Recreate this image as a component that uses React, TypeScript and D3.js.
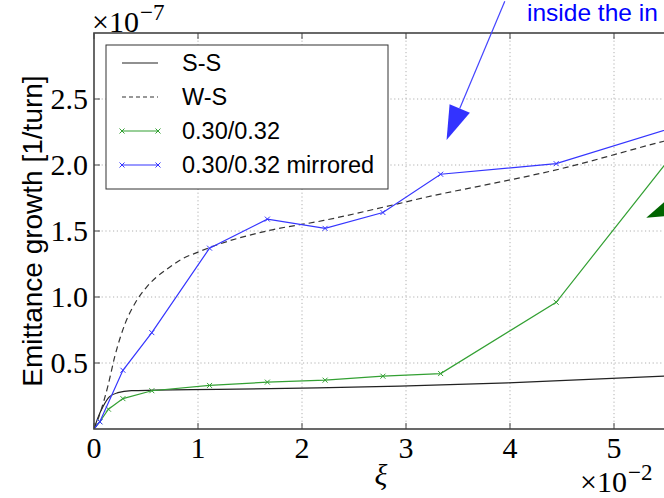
import { useEffect, useRef } from 'react';
import * as d3 from 'd3';

// xi in units of 1e-2, emittance growth in units of 1e-7 [1/turn]
const ssXi = [0, 0.04, 0.087, 0.15, 0.23, 0.36, 0.58, 1.19, 2, 2.94, 3.98, 5.48, 6];
const ssGrowth = [0, 0.09, 0.17, 0.245, 0.275, 0.29, 0.294, 0.3, 0.31, 0.325, 0.35, 0.4, 0.42];

const wsXi = [0, 0.05, 0.135, 0.2, 0.3, 0.4, 0.5, 0.6, 0.7, 0.85, 1.0, 1.13, 1.66, 2.21, 2.78, 3.33, 3.71, 4.48, 5.48, 6];
const wsGrowth = [0, 0.1, 0.33, 0.55, 0.8, 0.96, 1.07, 1.15, 1.21, 1.29, 1.34, 1.38, 1.5, 1.58, 1.68, 1.78, 1.84, 1.97, 2.18, 2.28];

const greenXi = [0, 0.056, 0.139, 0.278, 0.556, 1.111, 1.667, 2.222, 2.778, 3.333, 4.444, 5.556];
const greenGrowth = [0, 0.055, 0.15, 0.23, 0.29, 0.33, 0.355, 0.37, 0.4, 0.42, 0.96, 2.07];

const blueXi = [0, 0.056, 0.278, 0.556, 1.111, 1.667, 2.222, 2.778, 3.333, 4.444, 5.556];
const blueGrowth = [0, 0.055, 0.445, 0.73, 1.37, 1.59, 1.52, 1.64, 1.93, 2.01, 2.28];

const xTicks = [0, 1, 2, 3, 4, 5, 6];
const xTickLabels = ['0', '1', '2', '3', '4', '5'];
const yTicks = [0.5, 1.0, 1.5, 2.0, 2.5];
const yTickLabels = ['0.5', '1.0', '1.5', '2.0', '2.5'];

const legendLabels = ['S-S', 'W-S', '0.30/0.32', '0.30/0.32 mirrored'];

// annotation arrows: [tail xi, tail growth, tip xi, tip growth]
const blueArrow = [3.95, 3.24, 3.39, 2.19];
const greenArrow = [6.2, 1.9, 5.31, 1.6];

export default function App() {
  const svgRef = useRef(null);

  useEffect(() => {
    const svg = d3.select(svgRef.current);
    svg.selectAll('*').remove();

    const width = 664;
    const height = 498;
    const left = 94;
    const top = 33;
    const bottom = 429;
    const right = 718;

    const x = d3.scaleLinear([0, 6], [left, right]);
    const y = d3.scaleLinear([0, 3], [bottom, top]);

    const serif = '"Liberation Serif", serif';
    const sans = '"Liberation Sans", Arial, sans-serif';

    svg.attr('viewBox', [0, 0, width, height]).attr('width', width).attr('height', height);
    svg.append('rect').attr('width', width).attr('height', height).attr('fill', '#fff');

    svg.append('clipPath').attr('id', 'plot-clip')
      .append('rect').attr('x', left).attr('y', top).attr('width', right - left).attr('height', bottom - top);

    // grid
    const grid = svg.append('g').attr('stroke', '#b0b0b0').attr('stroke-width', 1).attr('stroke-dasharray', '1.2,2.6');
    grid.selectAll('line.gx').data(xTicks.slice(1, -1)).join('line')
      .attr('x1', d => x(d)).attr('x2', d => x(d)).attr('y1', top).attr('y2', bottom);
    grid.selectAll('line.gy').data(yTicks).join('line')
      .attr('x1', left).attr('x2', right).attr('y1', d => y(d)).attr('y2', d => y(d));

    // series
    const plot = svg.append('g').attr('clip-path', 'url(#plot-clip)');
    const pts = (xs, ys) => xs.map((v, i) => [v, ys[i]]);
    const smooth = d3.line().x(d => x(d[0])).y(d => y(d[1])).curve(d3.curveMonotoneX);
    const straight = d3.line().x(d => x(d[0])).y(d => y(d[1]));

    plot.append('path').attr('d', smooth(pts(ssXi, ssGrowth)))
      .attr('fill', 'none').attr('stroke', '#222').attr('stroke-width', 1.2);
    plot.append('path').attr('d', smooth(pts(wsXi, wsGrowth)))
      .attr('fill', 'none').attr('stroke', '#333').attr('stroke-width', 1.2).attr('stroke-dasharray', '6,4');

    const cross = 'M-2.5,-2.5L2.5,2.5M-2.5,2.5L2.5,-2.5';
    const series = [
      { xs: greenXi, ys: greenGrowth, color: '#33a033' },
      { xs: blueXi, ys: blueGrowth, color: '#3535ff' },
    ];
    series.forEach(s => {
      const data = pts(s.xs, s.ys);
      plot.append('path').attr('d', straight(data))
        .attr('fill', 'none').attr('stroke', s.color).attr('stroke-width', 1.2);
      plot.selectAll(null).data(data).join('path')
        .attr('d', cross).attr('transform', d => `translate(${x(d[0])},${y(d[1])})`)
        .attr('fill', 'none').attr('stroke', s.color).attr('stroke-width', 1);
    });

    // frame and inner ticks
    svg.append('rect').attr('x', left).attr('y', top).attr('width', right - left).attr('height', bottom - top)
      .attr('fill', 'none').attr('stroke', '#444').attr('stroke-width', 1.6);
    const ticks = svg.append('g').attr('stroke', '#444').attr('stroke-width', 1);
    xTicks.forEach(t => {
      ticks.append('line').attr('x1', x(t)).attr('x2', x(t)).attr('y1', bottom).attr('y2', bottom - 6);
      ticks.append('line').attr('x1', x(t)).attr('x2', x(t)).attr('y1', top).attr('y2', top + 6);
    });
    yTicks.forEach(t => {
      ticks.append('line').attr('x1', left).attr('x2', left + 6).attr('y1', y(t)).attr('y2', y(t));
    });

    // tick labels
    svg.append('g').attr('font-family', serif).attr('font-size', 30).attr('text-anchor', 'middle')
      .selectAll('text').data(xTickLabels).join('text')
      .attr('x', (d, i) => x(xTicks[i])).attr('y', 458).text(d => d);
    svg.append('g').attr('font-family', serif).attr('font-size', 30).attr('text-anchor', 'end')
      .selectAll('text').data(yTicks).join('text')
      .attr('x', 88).attr('y', d => y(d) + 10).text((d, i) => yTickLabels[i]);

    // offset labels
    const exp7 = svg.append('text').attr('font-family', serif).attr('font-size', 30).attr('x', 92).attr('y', 32);
    exp7.append('tspan').text('×10');
    exp7.append('tspan').attr('font-size', 23).attr('dx', 1).attr('dy', -12).text('−7');
    const exp2 = svg.append('text').attr('font-family', serif).attr('font-size', 30).attr('x', 580).attr('y', 492);
    exp2.append('tspan').text('×10');
    exp2.append('tspan').attr('font-size', 23).attr('dx', 1).attr('dy', -12).text('−2');

    // axis labels
    svg.append('text').attr('font-family', serif).attr('font-style', 'italic').attr('font-size', 30)
      .attr('text-anchor', 'middle').attr('x', 381).attr('y', 485).text('ξ');
    svg.append('text').attr('font-family', sans).attr('font-size', 28).attr('text-anchor', 'middle')
      .attr('transform', `translate(42,${(top + bottom) / 2}) rotate(-90)`).text('Emittance growth [1/turn]');

    // legend
    const legend = svg.append('g');
    legend.append('rect').attr('x', 106).attr('y', 45).attr('width', 282).attr('height', 144)
      .attr('fill', '#fff').attr('stroke', '#333').attr('stroke-width', 1);
    const legendStyles = [
      { color: '#222', dash: null, marker: false },
      { color: '#333', dash: '4,3', marker: false },
      { color: '#33a033', dash: null, marker: true },
      { color: '#3535ff', dash: null, marker: true },
    ];
    legendLabels.forEach((label, i) => {
      const ly = 63 + i * 34;
      const st = legendStyles[i];
      legend.append('line').attr('x1', 122).attr('x2', 158).attr('y1', ly).attr('y2', ly)
        .attr('stroke', st.color).attr('stroke-width', 1.2).attr('stroke-dasharray', st.dash);
      if (st.marker) {
        [122, 158].forEach(mx => legend.append('path').attr('d', cross)
          .attr('transform', `translate(${mx},${ly})`).attr('fill', 'none').attr('stroke', st.color));
      }
      legend.append('text').attr('font-family', sans).attr('font-size', 23.5).attr('x', 182).attr('y', ly + 8).text(label);
    });

    // annotations
    const arrowHead = (a, len, half) => {
      const x0 = x(a[0]), y0 = y(a[1]), x1 = x(a[2]), y1 = y(a[3]);
      const d = Math.hypot(x1 - x0, y1 - y0);
      const ux = (x1 - x0) / d, uy = (y1 - y0) / d;
      const bx = x1 - ux * len, by = y1 - uy * len;
      return { x0, y0, bx, by, path: `M${x1},${y1}L${bx - uy * half},${by + ux * half}L${bx + uy * half},${by - ux * half}Z` };
    };
    const bh = arrowHead(blueArrow, 34, 11);
    svg.append('line').attr('x1', bh.x0).attr('y1', bh.y0).attr('x2', bh.bx).attr('y2', bh.by)
      .attr('stroke', '#4444ff').attr('stroke-width', 1.2);
    svg.append('path').attr('d', bh.path).attr('fill', '#3333ff');
    const gh = arrowHead(greenArrow, 34, 11);
    svg.append('path').attr('d', gh.path).attr('fill', '#006400');
    svg.append('text').attr('font-family', sans).attr('font-size', 24.5).attr('fill', '#0000ff')
      .attr('x', 527).attr('y', 21).text('inside the in');
  }, []);

  return (
    <div style={{ position: 'fixed', left: 0, top: 0, width: 664, height: 498, overflow: 'hidden', background: '#fff' }}>
      <svg ref={svgRef} style={{ display: 'block' }} />
    </div>
  );
}
